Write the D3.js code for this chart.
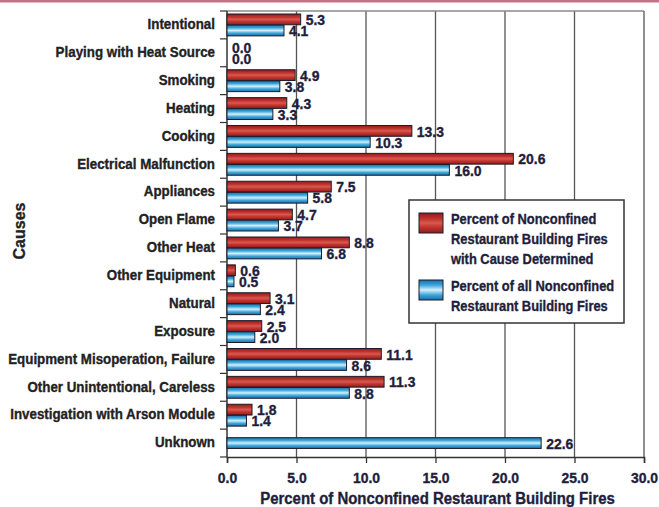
<!DOCTYPE html>
<html>
<head>
<meta charset="utf-8">
<script src="https://cdn.jsdelivr.net/npm/d3@7/dist/d3.min.js"></script>
<style>
  html, body { margin: 0; padding: 0; background: #fff; }
  svg { display: block; }
  text { font-family: "Liberation Sans", Arial, sans-serif; font-weight: bold; }
</style>
</head>
<body>
<svg id="chart" width="659" height="507"></svg>
<script>
// Causes of nonconfined restaurant building fires
const categories = [
  "Intentional", "Playing with Heat Source", "Smoking", "Heating", "Cooking",
  "Electrical Malfunction", "Appliances", "Open Flame", "Other Heat", "Other Equipment",
  "Natural", "Exposure", "Equipment Misoperation, Failure", "Other Unintentional, Careless",
  "Investigation with Arson Module", "Unknown"
];
// Percent of nonconfined restaurant building fires with cause determined
const causeDetermined = [5.3, 0.0, 4.9, 4.3, 13.3, 20.6, 7.5, 4.7, 8.8, 0.6, 3.1, 2.5, 11.1, 11.3, 1.8, null];
// Percent of all nonconfined restaurant building fires
const allFires = [4.1, 0.0, 3.8, 3.3, 10.3, 16.0, 5.8, 3.7, 6.8, 0.5, 2.4, 2.0, 8.6, 8.8, 1.4, 22.6];
const xTicks = [0, 5, 10, 15, 20, 25, 30];
const seriesNames = ["Percent of Nonconfined|Restaurant Building Fires|with Cause Determined",
                     "Percent of all Nonconfined|Restaurant Building Fires"];

const svg = d3.select("#chart");
const W = 659, H = 507;
const m = { top: 11, right: 15, bottom: 50, left: 227 };
const INK = "#1e1e3c";

// condensed, heavy text helper: anchors at (x, y), then narrows the glyphs
function ctext(parent, x0, y0, str, size, opts = {}) {
  const sq = opts.sq || 0.89;
  const fill = opts.fill || INK;
  return parent.append("text")
    .attr("transform", `translate(${x0},${y0}) scale(${sq},1)`)
    .attr("text-anchor", opts.anchor || "start")
    .attr("dominant-baseline", "central")
    .attr("font-size", size).attr("fill", fill)
    .attr("stroke", fill).attr("stroke-width", 0.35)
    .text(str);
}

// thin rose rule across the top of the page
svg.append("rect").attr("x", 0).attr("y", 0).attr("width", W).attr("height", 2.5).attr("fill", "#c77285");

const defs = svg.append("defs");
function cylinder(id, stops) {
  const g = defs.append("linearGradient").attr("id", id).attr("x1", 0).attr("y1", 0).attr("x2", 0).attr("y2", 1);
  stops.forEach(([o, c]) => g.append("stop").attr("offset", o).attr("stop-color", c));
}
cylinder("gRed", [[0, "#8e1c1c"], [0.3, "#c2352e"], [0.5, "#d65a50"], [0.7, "#c2352e"], [1, "#8e1c1c"]]);
cylinder("gBlue", [[0, "#1b6ea6"], [0.25, "#3aa5db"], [0.5, "#d4f0fb"], [0.75, "#3aa5db"], [1, "#1b6ea6"]]);

const x = d3.scaleLinear().domain([0, 30]).range([m.left, W - m.right]);
const y = d3.scaleBand().domain(categories).range([m.top, H - m.bottom]).padding(0);
const sub = d3.scaleBand().domain(["det", "all"]).range([0, y.bandwidth()]).paddingInner(0.03).paddingOuter(0.27);

// vertical grid lines
svg.append("g").selectAll("line").data(xTicks.slice(1)).join("line")
  .attr("x1", d => x(d)).attr("x2", d => x(d))
  .attr("y1", m.top).attr("y2", H - m.bottom)
  .attr("stroke", "#555").attr("stroke-width", 1.3);
// top frame line
svg.append("line").attr("x1", x(0)).attr("x2", x(30)).attr("y1", m.top).attr("y2", m.top)
  .attr("stroke", "#8a8a8a").attr("stroke-width", 1.3);

// left axis with ticks at category boundaries
const bounds = categories.map(c => y(c)).concat([H - m.bottom]);
svg.append("g").selectAll("line").data(bounds).join("line")
  .attr("x1", x(0) - 7).attr("x2", x(0)).attr("y1", d => d).attr("y2", d => d)
  .attr("stroke", "#333").attr("stroke-width", 1.2);
svg.append("line").attr("x1", x(0)).attr("x2", x(0)).attr("y1", m.top).attr("y2", H - m.bottom)
  .attr("stroke", "#333").attr("stroke-width", 1.5);

// category labels
const catG = svg.append("g");
categories.forEach(c => ctext(catG, x(0) - 12, y(c) + y.bandwidth() / 2 - 1, c, 15, { anchor: "end", fill: "#222" }));

// bars
const rows = categories.map((c, i) => ({ c, det: causeDetermined[i], all: allFires[i] }));
const barH = sub.bandwidth();
function barY(r, key) {
  if (key === "all" && r.det == null) return y(r.c) + (y.bandwidth() - barH) / 2;
  return y(r.c) + sub(key);
}
const marks = [];
rows.forEach(r => {
  if (r.det != null) marks.push({ r, key: "det", v: r.det, fill: "url(#gRed)" });
  if (r.all != null) marks.push({ r, key: "all", v: r.all, fill: "url(#gBlue)" });
});
const bars = svg.append("g");
bars.selectAll("rect").data(marks.filter(d => d.v > 0)).join("rect")
  .attr("x", x(0)).attr("y", d => barY(d.r, d.key))
  .attr("width", d => x(d.v) - x(0)).attr("height", barH)
  .attr("fill", d => d.fill).attr("stroke", "#1c1c2a").attr("stroke-width", 1);
const valG = svg.append("g");
marks.forEach(d => ctext(valG, x(d.v) + 5, barY(d.r, d.key) + barH / 2 + 0.5, d.v.toFixed(1), 15, { sq: 0.93 }));

// bottom axis
const xAxis = d3.axisBottom(x).tickValues(xTicks).tickFormat(d3.format(".1f")).tickSize(6).tickPadding(9);
const ax = svg.append("g").attr("transform", `translate(0,${H - m.bottom})`).call(xAxis);
ax.select(".domain").attr("stroke", "#333").attr("stroke-width", 1.5);
ax.selectAll(".tick line").attr("stroke", "#333").attr("stroke-width", 1.3);
ax.selectAll(".tick text").attr("font-size", 15).attr("fill", INK)
  .attr("stroke", INK).attr("stroke-width", 0.35)
  .attr("font-family", "'Liberation Sans', Arial, sans-serif").attr("font-weight", "bold")
  .attr("transform", "scale(0.93,1)");

// axis titles
ctext(svg, (x(0) + x(30)) / 2 + 2, H - 9, "Percent of Nonconfined Restaurant Building Fires", 17, { anchor: "middle", sq: 0.88 });
svg.append("text").attr("transform", `translate(19,${(m.top + H - m.bottom) / 2 - 3}) rotate(-90)`)
  .attr("text-anchor", "middle").attr("dominant-baseline", "central")
  .attr("font-size", 16).attr("fill", "#222").attr("stroke", "#222").attr("stroke-width", 0.3)
  .text("Causes");

// legend
const lg = svg.append("g").attr("transform", "translate(409,200)");
lg.append("rect").attr("width", 215).attr("height", 123).attr("fill", "#fff")
  .attr("stroke", "#333").attr("stroke-width", 1.5);
const legendItems = [
  { fill: "url(#gRed)", top: 13, lines: seriesNames[0].split("|") },
  { fill: "url(#gBlue)", top: 80, lines: seriesNames[1].split("|") }
];
legendItems.forEach(it => {
  lg.append("rect").attr("x", 10).attr("y", it.top).attr("width", 24).attr("height", 20)
    .attr("fill", it.fill).attr("stroke", "#1c1c2a").attr("stroke-width", 1);
  it.lines.forEach((t, i) => ctext(lg, 42, it.top + 6 + i * 20, t, 15, { sq: 0.86 }));
});
</script>
</body>
</html>
